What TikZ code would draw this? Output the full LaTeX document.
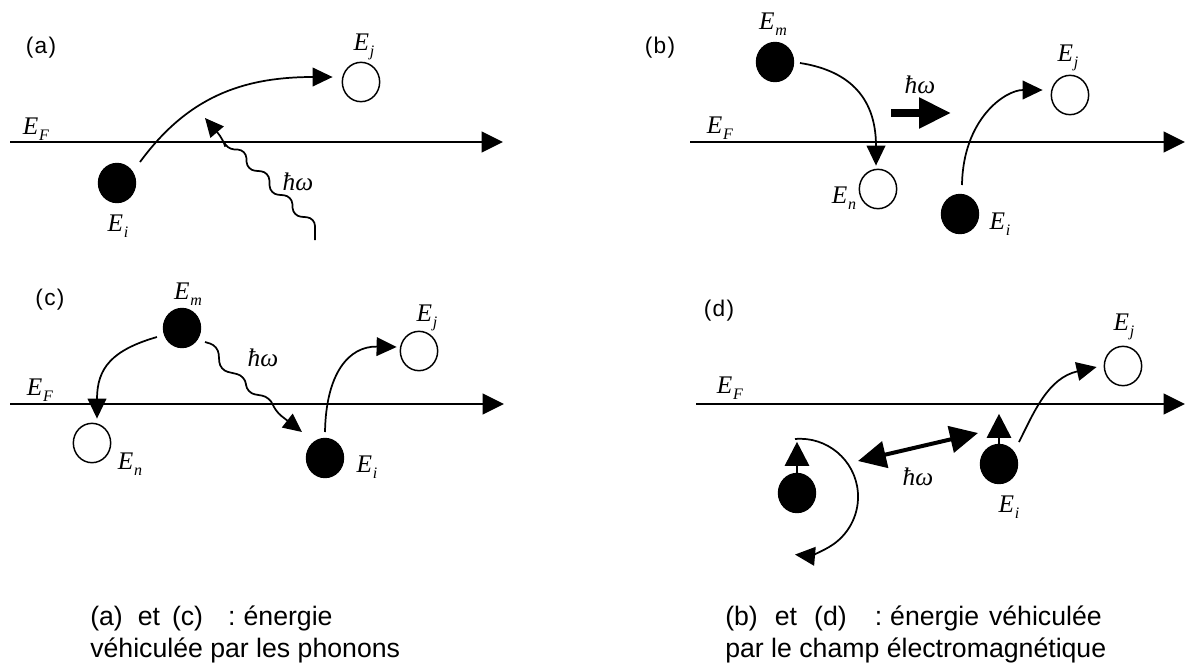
\documentclass[tikz,border=0pt]{standalone}
\usepackage{fontspec}
\setmainfont{Liberation Serif}
\newfontfamily\arialfont{Liberation Sans}
\usetikzlibrary{arrows.meta, positioning, calc, shapes.geometric}

\newcommand{\En}[1]{\textit{E}\kern0.5pt\raisebox{-0.5ex}{\fontsize{12}{12}\selectfont\textit{#1}}}
\newcommand{\hw}{\textit{ħω}}

\begin{document}
\begin{tikzpicture}[
        x=0.75pt, y=-0.75pt,
        % styles for the energy-level sketches
        tag/.style={inner sep=0pt, font=\arialfont\fontsize{17}{19}\selectfont},
        level/.style={inner sep=0pt, font=\fontsize{19}{21}\selectfont},
        occupied/.style={ellipse, draw, fill=black, line width=0.8pt, minimum width=28pt, minimum height=29.5pt, inner sep=0pt},
        vacant/.style={ellipse, draw, line width=1.1pt, minimum width=28pt, minimum height=29.5pt, inner sep=0pt},
        fermi/.style={line width=1.3pt, -{Triangle[length=16pt,width=15.5pt]}},
        jump/.style={line width=1.3pt, -{Triangle[length=15pt,width=14pt]}},
        photon/.style={line width=1.3pt, rounded corners=6pt, -{Triangle[length=14pt,width=13pt]}},
        spin/.style={line width=2.2pt, -{Triangle[length=18pt,width=18pt]}},
        field/.style={line width=5.5pt, -{Triangle[length=24pt,width=22pt]}},
        exchange/.style={line width=3pt, {Triangle[length=21pt,width=20pt]}-{Triangle[length=21pt,width=20pt]}},
        caption/.style={anchor=base west, inner sep=0pt, font=\arialfont\fontsize{20}{24}\selectfont}
    ]
        \useasboundingbox (0,0) rectangle (1186,668);

        % --------------------------------------------------------
        % (a): phonon absorbed by E_i
        % --------------------------------------------------------
        \node[tag] (tagA) at (41,48) {(\kern1pt a\kern1pt)};
        \coordinate (fA0) at (10,142);
        \coordinate (fA1) at (503,142);
        \draw[fermi] (fA0) -- (fA1);
        \node[level] (efA) at (36,129) {\En{F}};

        \node[occupied] (iA) at (117,183) {};
        \node[level] (iAl) at (118,226) {\En{i}};
        \node[vacant] (jA) at (361,82) {};
        \node[level] (jAl) at (364,47) {\En{j}};
        \draw[jump] ($(iA)+(23,-21)$) .. controls ($(iA)+(70,-85)$) and ($(jA)+(-120,-5)$) .. ($(jA.west)+(-9,-5)$);

        \coordinate (wA) at (315,240);
        \draw[photon] (wA) -- ++(0,-22) -- ++(-22,-2) -- ++(-1,-20) -- ++(-22,-2) -- ++(-1,-22) -- ++(-22,-2) -- ++(-1,-20) -- ++(-20,-1) -- ++(-3,-10) -- ++(-18,-21);
        \node[level] (hwA) at (298,182) {\hw};

        % --------------------------------------------------------
        % (b): field carries E_m -> E_n to E_i -> E_j
        % --------------------------------------------------------
        \node[tag] (tagB) at (660,48) {(\kern1pt b\kern1pt)};
        \coordinate (fB0) at (690,142);
        \coordinate (fB1) at (1185,142);
        \draw[fermi] (fB0) -- (fB1);
        \node[level] (efB) at (720,128) {\En{F}};

        \node[occupied] (mB) at (775,62) {};
        \node[level] (mBl) at (773,24) {\En{m}};
        \node[vacant] (nB) at (878,189) {};
        \node[level] (nBl) at (844,198) {\En{n}};
        \node[occupied] (iB) at (960,214) {};
        \node[level] (iBl) at (1000,224) {\En{i}};
        \node[vacant] (jB) at (1070,95) {};
        \node[level] (jBl) at (1068,58) {\En{j}};

        \draw[jump] ($(mB)+(25,1)$) .. controls ($(mB)+(70,8)$) and ($(nB)+(-2,-95)$) .. ($(nB.north)+(-2,-3)$);
        \draw[jump] ($(iB)+(2,-29)$) .. controls ($(iB)+(3,-95)$) and ($(jB)+(-65,-5)$) .. ($(jB.west)+(-8,-5)$);

        \node[level] (hwB) at (920,85) {\hw};
        \coordinate (fldB0) at (891,113);
        \coordinate (fldB1) at (951,113);
        \draw[field] (fldB0) -- (fldB1);

        % --------------------------------------------------------
        % (c): phonon emitted by E_m, absorbed by E_i
        % --------------------------------------------------------
        \node[tag] (tagC) at (50,300) {(\kern1pt c\kern1pt)};
        \coordinate (fC0) at (10,404);
        \coordinate (fC1) at (504,404);
        \draw[fermi] (fC0) -- (fC1);
        \node[level] (efC) at (40,390) {\En{F}};

        \node[occupied] (mC) at (182,328) {};
        \node[level] (mCl) at (188,294) {\En{m}};
        \node[vacant] (nC) at (92,443) {};
        \node[level] (nCl) at (130,464) {\En{n}};
        \node[occupied] (iC) at (325,458) {};
        \node[level] (iCl) at (367,467) {\En{i}};
        \node[vacant] (jC) at (419,351) {};
        \node[level] (jCl) at (427,318) {\En{j}};

        \draw[jump] ($(mC)+(-25,9)$) .. controls ($(mC)+(-70,22)$) and ($(nC)+(5,-75)$) .. ($(nC.north)+(5,-4)$);
        \draw[photon] ($(mC)+(23,14)$) -- ++(13,4) -- ++(2,24) -- ++(25,6) -- ++(2,17) -- ++(23,4) -- ++(5,14) -- ($(iC)+(-23,-26)$);
        \node[level] (hwC) at (263,358) {\hw};
        \draw[jump] ($(iC)+(0,-26)$) .. controls ($(iC)+(1,-85)$) and ($(jC)+(-70,-5)$) .. ($(jC.west)+(-3,-4)$);

        % --------------------------------------------------------
        % (d): dipole coupling through the near field
        % --------------------------------------------------------
        \node[tag] (tagD) at (719,311) {(\kern1pt d\kern1pt)};
        \coordinate (fD0) at (696,404);
        \coordinate (fD1) at (1185,404);
        \draw[fermi] (fD0) -- (fD1);
        \node[level] (efD) at (730,388) {\En{F}};

        \node[vacant] (jD) at (1123,366) {};
        \node[level] (jDl) at (1124,327) {\En{j}};
        \node[occupied] (iD) at (999,464) {};
        \node[level] (iDl) at (1009,507) {\En{i}};
        \node[occupied] (lD) at (797,493) {};

        \draw[spin] (iD.north) -- ++(0,-30);
        \draw[spin] (lD.north) -- ++(0,-31);
        \draw[jump] ($(iD)+(20,-22)$) .. controls ($(iD)+(35,-52)$) and ($(jD)+(-75,12)$) .. ($(jD.west)+(-7,1)$);

        \coordinate (xD0) at (858,461);
        \coordinate (xD1) at (978,433);
        \draw[exchange] (xD0) -- (xD1);
        \node[level] (hwD) at (918,477) {\hw};

        \coordinate (rotD) at (800,497);
        \draw[jump] ($(rotD)+(-5,-58)$) arc[start angle=-95, end angle=95, radius=58];

        % captions
        \node[caption] (capL1) at (90,625) {(a)\hspace{.56em}et\hspace{.45em}(c)\hspace{.94em}:\hspace{.3em}énergie};
        \node[caption] (capL2) at ($(capL1.base west)+(0,32)$) {véhiculée par les phonons};
        \node[caption] (capR1) at (725,625) {(b)\hspace{.64em}et\hspace{.64em}(d)\hspace{1.05em}:\hspace{.3em}énergie\hspace{.37em}véhiculée};
        \node[caption] (capR2) at ($(capR1.base west)+(0,32)$) {par le champ électromagnétique};
    \end{tikzpicture}
\end{document}
